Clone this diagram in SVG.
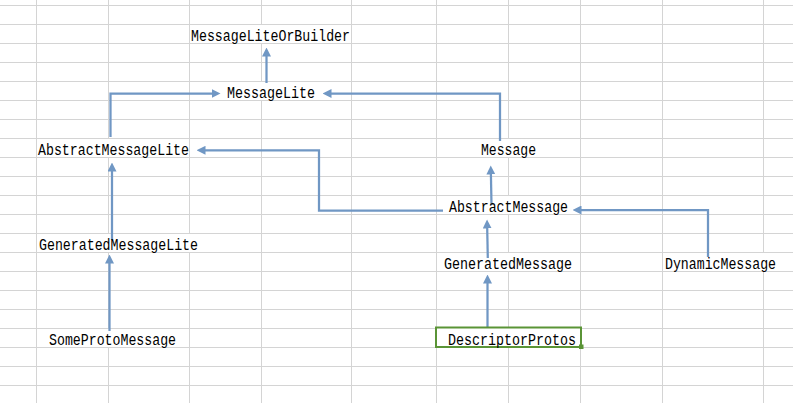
<svg xmlns="http://www.w3.org/2000/svg" width="793" height="403" viewBox="0 0 793 403">
<style>
.grid{stroke:#d4d4d4;stroke-width:1;fill:none}
.lbl{font-family:"Liberation Mono","DejaVu Sans Mono",monospace;font-size:16px;fill:#000}
.conn{stroke:#7097c4;stroke-width:2.25;fill:none;marker-end:url(#ah)}
</style>
<defs>
<marker id="ah" viewBox="0 -4.5 9 9" markerWidth="9" markerHeight="9" refX="0.5" refY="0" orient="auto" markerUnits="userSpaceOnUse">
<path d="M0,-4.5 L9,0 L0,4.5 z" fill="#7097c4"/>
</marker>
</defs>
<rect width="793" height="403" fill="#fff"/>
<g id="grid" class="grid">
<path d="M0,5.5H793M0,24.5H793M0,43.5H793M0,62.5H793M0,81.5H793M0,100.5H793M0,119.5H793M0,138.5H793M0,157.5H793M0,176.5H793M0,195.5H793M0,214.5H793M0,233.5H793M0,252.5H793M0,271.5H793M0,290.5H793M0,309.5H793M0,328.5H793M0,347.5H793M0,366.5H793M0,385.5H793"/>
<path d="M36.5,0V403M351.5,0V403M436.5,0V403M580.5,0V403M662.5,0V403"/>
<path d="M108.5,0V138.5M108.5,157.5V233.5M108.5,252.5V328.5M108.5,347.5V403"/>
<path d="M189.5,0V233.5M189.5,252.5V403"/>
<path d="M261.5,0V24.5M261.5,43.5V81.5M261.5,100.5V403"/>
<path d="M508.5,0V138.5M508.5,157.5V195.5M508.5,214.5V252.5M508.5,271.5V328.5M508.5,347.5V403"/>
<path d="M763.5,0V252.5M763.5,271.5V403"/>
</g>
<g id="connectors">
<path class="conn" d="M266.5,83V56"/>
<path class="conn" d="M110.5,137V93.5H212"/>
<path class="conn" d="M500,141V93.5H331"/>
<path class="conn" d="M112,240V171"/>
<path class="conn" d="M109.5,331V263"/>
<path class="conn" d="M491.5,205L490.9,174"/>
<path class="conn" d="M443,210.5H319V150.3H205"/>
<path class="conn" d="M487.8,258L487.2,228"/>
<path class="conn" d="M708,257V210H581"/>
<path class="conn" d="M487.5,327V283"/>
</g>
<g id="MessageLiteOrBuilder"><text class="lbl" x="191" y="40.5" textLength="159" lengthAdjust="spacingAndGlyphs">MessageLiteOrBuilder</text></g>
<g id="MessageLite"><text class="lbl" x="227" y="97.5" textLength="88" lengthAdjust="spacingAndGlyphs">MessageLite</text></g>
<g id="AbstractMessageLite"><text class="lbl" x="38" y="154.5" textLength="151" lengthAdjust="spacingAndGlyphs">AbstractMessageLite</text></g>
<g id="Message"><text class="lbl" x="481" y="154.5" textLength="55" lengthAdjust="spacingAndGlyphs">Message</text></g>
<g id="AbstractMessage"><text class="lbl" x="449" y="211.5" textLength="119" lengthAdjust="spacingAndGlyphs">AbstractMessage</text></g>
<g id="GeneratedMessageLite"><text class="lbl" x="39" y="249.5" textLength="159" lengthAdjust="spacingAndGlyphs">GeneratedMessageLite</text></g>
<g id="GeneratedMessage"><text class="lbl" x="444" y="268.5" textLength="128" lengthAdjust="spacingAndGlyphs">GeneratedMessage</text></g>
<g id="DynamicMessage"><text class="lbl" x="665" y="268.5" textLength="111" lengthAdjust="spacingAndGlyphs">DynamicMessage</text></g>
<g id="SomeProtoMessage"><text class="lbl" x="49" y="344.5" textLength="127" lengthAdjust="spacingAndGlyphs">SomeProtoMessage</text></g>
<g id="DescriptorProtos">
<rect x="436" y="327.5" width="145" height="19.5" fill="#fff" stroke="#5a9436" stroke-width="2"/>
<rect x="579" y="344.5" width="4.5" height="4.5" fill="#5a9436"/>
<text class="lbl" x="448" y="344.5" textLength="128" lengthAdjust="spacingAndGlyphs">DescriptorProtos</text>
</g>
</svg>
